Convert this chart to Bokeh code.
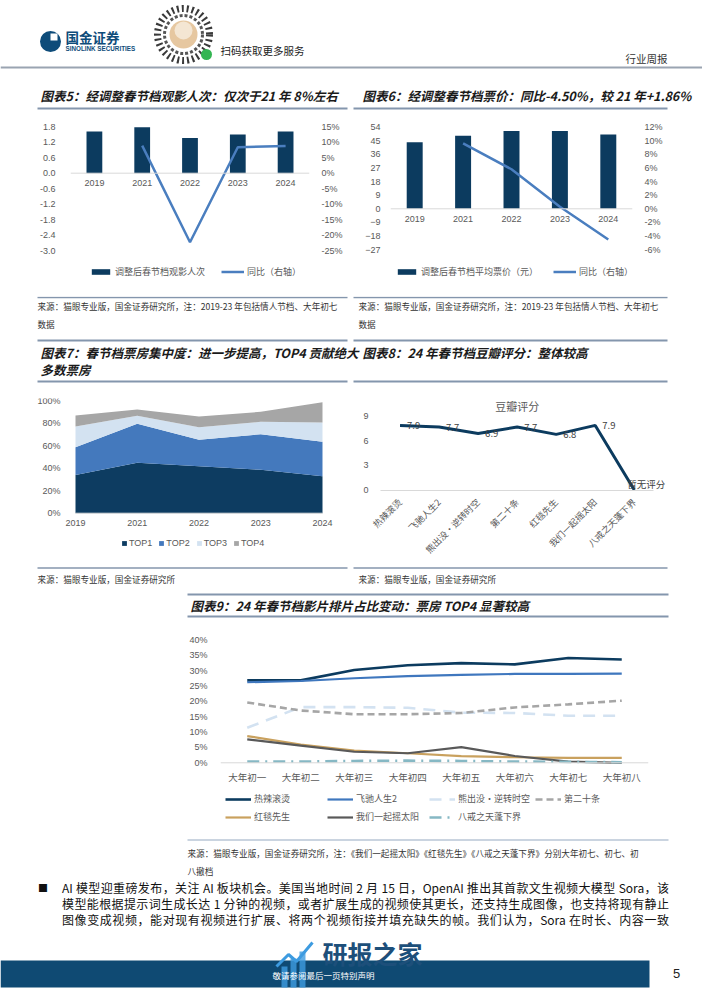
import math
import numpy as np
from bokeh.plotting import figure
from bokeh.models import (Range1d, FactorRange, LinearAxis, FixedTicker, PrintfTickFormatter,
                          NumeralTickFormatter, Legend, LegendItem, Span, ColumnDataSource,
                          LabelSet, Div)
from bokeh.layouts import column, row
from bokeh.embed import file_html
from bokeh.resources import INLINE
from bokeh.core.properties import value

# ---------------- data ----------------
years_56 = ["2019", "2021", "2022", "2023", "2024"]
audience_100m = [1.62, 1.78, 1.37, 1.50, 1.62]
audience_yoy = [np.nan, 8.9, -22.3, 8.4, 8.8]
avg_price = [44.0, 48.2, 51.4, 51.4, 49.1]
price_yoy = [np.nan, 9.6, 5.8, 0.3, -4.5]
ticks_aud = [-3.0, -2.4, -1.8, -1.2, -0.6, 0.0, 0.6, 1.2, 1.8]
ticks_aud_yoy = [-25, -20, -15, -10, -5, 0, 5, 10, 15]
ticks_price = [-27, -18, -9, 0, 9, 18, 27, 36, 45, 54]
ticks_price_yoy = [-6, -4, -2, 0, 2, 4, 6, 8, 10, 12]

years_7 = ["2019", "2021", "2022", "2023", "2024"]
top1 = [34.0, 44.7, 41.7, 38.5, 32.8]
top2 = [24.6, 34.6, 23.4, 31.6, 30.6]
top3 = [18.3, 7.1, 11.2, 11.0, 17.1]
top4 = [9.8, 5.6, 9.5, 8.9, 18.0]
ticks_share = [0, 20, 40, 60, 80, 100]

films = ["热辣滚烫", "飞驰人生2", "熊出没·逆转时空", "第二十条", "红毯先生", "我们一起摇太阳", "八戒之天蓬下界"]
scores = [7.9, 7.7, 6.9, 7.7, 6.8, 7.9, 0.0]
score_labels = ["7.9", "7.7", "6.9", "7.7", "6.8", "7.9", "暂无评分"]
ticks_score = [0, 3, 6, 9]

days = ["大年初一", "大年初二", "大年初三", "大年初四", "大年初五", "大年初六", "大年初七", "大年初八"]
s_rlgt = [26.8, 26.8, 30.2, 31.7, 32.4, 32.0, 34.1, 33.6]
s_fcrs = [26.2, 26.6, 27.5, 28.2, 28.6, 28.9, 28.9, 29.0]
s_xcm = [11.4, 18.1, 18.1, 17.9, 16.3, 16.2, 15.3, 15.3]
s_dest = [19.6, 17.0, 15.8, 15.8, 16.2, 18.0, 19.0, 20.2]
s_htxs = [8.7, 5.9, 4.0, 3.1, 2.2, 1.8, 1.6, 1.6]
s_wmyq = [7.6, 5.6, 3.6, 3.1, 5.1, 2.2, 0.4, 0.0]
s_bj = [0.4, 0.4, 0.6, 0.7, 0.6, 0.4, 0.3, 0.2]
ticks_sched = [0, 5, 10, 15, 20, 25, 30, 35, 40]

# ---------------- styles ----------------
NAVY = "#0c3b5f"
BLUE = "#4a7ebf"
GRAY_TXT = "#595959"
BASE = "#d9d9d9"
RULE = "#8496ad"
LAT = "Liberation Sans"
CJK = "Noto Sans CJK SC"
W = 702


def chart_fig(width, height, x_range, y_range, left, right, top, bottom):
    p = figure(width=width, height=height, x_range=x_range, y_range=y_range,
               output_backend="svg", toolbar_location=None,
               min_border_left=left, min_border_right=right,
               min_border_top=top, min_border_bottom=bottom)
    p.outline_line_color = None
    p.xgrid.visible = False
    p.ygrid.visible = False
    return p


def style_axis(ax, standoff, size="9px", font=LAT, color=GRAY_TXT):
    ax.axis_line_color = None
    ax.major_tick_line_color = None
    ax.minor_tick_line_color = None
    ax.major_label_text_font = font
    ax.major_label_text_font_size = size
    ax.major_label_text_color = color
    ax.major_label_standoff = standoff


def make_legend(items, loc, gw, gh, spacing, standoff=3, font=CJK, ncols=None, lh=11, lw=10):
    leg = Legend(items=[LegendItem(label=l, renderers=r) for l, r in items],
                 location=loc, orientation="horizontal",
                 glyph_width=gw, glyph_height=gh, spacing=spacing, label_standoff=standoff,
                 label_height=lh, label_width=lw,
                 padding=0, margin=0, border_line_color=None, background_fill_alpha=0,
                 label_text_font=font, label_text_font_size="9px",
                 label_text_color=GRAY_TXT, label_text_baseline="middle")
    if ncols:
        leg.ncols = ncols
    return leg


def deco_fig(y0, y1):
    p = figure(width=W, height=y1 - y0, x_range=Range1d(0, W), y_range=Range1d(y1, y0),
               output_backend="svg", toolbar_location=None, min_border=0,
               x_axis_location=None, y_axis_location=None)
    p.outline_line_color = None
    p.xgrid.visible = False
    p.ygrid.visible = False
    return p


def txt(p, xs, ys, texts, size, color="#1a1a1a", style="normal", align="left", font=CJK):
    p.text(x=xs, y=ys, text=texts, text_font=value(font), text_font_size=size,
           text_color=color, text_font_style=style, text_align=align, text_baseline="middle")


def rules(p, x0, x1, y, color=RULE, width=1.6):
    p.segment(x0=x0, y0=y, x1=x1, y1=y, line_color=color, line_width=width)


# ---------------- header + titles 5/6 (Y 0-112) ----------------
hd = deco_fig(0, 112)
hd.circle(x=[50], y=[41], radius=10.5, fill_color="#0e4c7a", line_color=None)
hd.quad(left=[50], right=[57], top=[33], bottom=[40], fill_color="white", line_color=None)
txt(hd, [65], [36], ["国金证券"], "13.5px", color="#0e4c7a", style="bold")
txt(hd, [65], [48], ["SINOLINK SECURITIES"], "6.3px", color="#0e4c7a", style="bold", font=LAT)
hd.circle(x=[183], y=[34], radius=26, fill_color=None, line_color="#3a3a3a", line_width=7, line_dash="2 3")
hd.circle(x=[183], y=[34], radius=19, fill_color=None, line_color="#555555", line_width=3, line_dash="3 2")
hd.circle(x=[183], y=[34], radius=14, fill_color="#e6c7a0", line_color=None)
hd.circle(x=[183], y=[30], radius=9, fill_color="#f4e6d3", line_color=None)
hd.circle(x=[206], y=[54], radius=5.5, fill_color="#33b552", line_color=None)
txt(hd, [220], [50], ["扫码获取更多服务"], "10.5px", color="#222222")
txt(hd, [667], [58], ["行业周报"], "10.5px", color="#333333", align="right")
rules(hd, [0], [W], [67], color="#9aa4b1", width=2)
txt(hd, [40, 362], [95, 95],
    ["图表5：经调整春节档观影人次：仅次于21 年 8%左右", "图表6：经调整春节档票价：同比-4.50%，较 21 年+1.86%"],
    "12.5px", style="bold italic")
rules(hd, [37, 353], [347, 667], [108, 108], width=2)

# ---------------- chart 5 ----------------
p5 = chart_fig(350, 184, FactorRange(factors=years_56), Range1d(-4.2004, 2.1215), 70, 41, 6, 15)
p5.extra_y_ranges = {"yoy": Range1d(-35.0, 17.68)}
src5 = ColumnDataSource(dict(year=years_56, v=audience_100m, yoy=np.array(audience_yoy, dtype=float)))
b5 = p5.vbar(x="year", top="v", width=0.33, source=src5, fill_color=NAVY, line_color=None)
l5 = p5.line(x="year", y="yoy", source=src5, y_range_name="yoy", line_color=BLUE, line_width=2.5)
p5.add_layout(Span(location=0, dimension="width", line_color=BASE, line_width=1))
ya = p5.yaxis[0]
ya.ticker = FixedTicker(ticks=ticks_aud)
ya.formatter = NumeralTickFormatter(format="0.0")
style_axis(ya, 9)
ra = LinearAxis(y_range_name="yoy", ticker=FixedTicker(ticks=ticks_aud_yoy),
                formatter=PrintfTickFormatter(format="%d%%"))
style_axis(ra, 6)
p5.add_layout(ra, "right")
xa = p5.xaxis[0]
xa.fixed_location = -0.035
style_axis(xa, 0)
p5.add_layout(make_legend([("调整后春节档观影人次", [b5]), ("同比（右轴）", [l5])], (19, 3), 23, 7, 16))

# ---------------- chart 6 ----------------
p6 = chart_fig(352, 184, FactorRange(factors=years_56), Range1d(-48.0, 59.63), 40, 70, 6, 15)
p6.extra_y_ranges = {"yoy": Range1d(-10.67, 13.25)}
src6 = ColumnDataSource(dict(year=years_56, v=avg_price, yoy=np.array(price_yoy, dtype=float)))
b6 = p6.vbar(x="year", top="v", width=0.33, source=src6, fill_color=NAVY, line_color=None)
l6 = p6.line(x="year", y="yoy", source=src6, y_range_name="yoy", line_color=BLUE, line_width=2.5)
p6.add_layout(Span(location=0, dimension="width", line_color=BASE, line_width=1))
ya = p6.yaxis[0]
ya.ticker = FixedTicker(ticks=ticks_price)
style_axis(ya, 4)
ra = LinearAxis(y_range_name="yoy", ticker=FixedTicker(ticks=ticks_price_yoy),
                formatter=PrintfTickFormatter(format="%d%%"))
style_axis(ra, 6)
p6.add_layout(ra, "right")
xa = p6.xaxis[0]
xa.fixed_location = -0.5
style_axis(xa, 0)
p6.add_layout(make_legend([("调整后春节档平均票价（元）", [b6]), ("同比（右轴）", [l6])], (5, 3), 23, 7, 15))

# ---------------- deco row (Y 296-388) ----------------
d3 = deco_fig(296, 388)
rules(d3, [37, 353], [347, 667], [297, 297], width=1.5)
src_note = "来源：猫眼专业版，国金证券研究所，注：2019-23 年包括情人节档、大年初七"
txt(d3, [37, 358, 37, 358], [305, 305, 323, 323], [src_note, src_note, "数据", "数据"], "8.6px", color="#333333")
rules(d3, [37, 353], [347, 667], [340, 340], width=2)
txt(d3, [40, 40, 362], [352, 369, 352],
    ["图表7：春节档票房集中度：进一步提高，TOP4 贡献绝大", "多数票房", "图表8：24 年春节档豆瓣评分：整体较高"],
    "12.5px", style="bold italic")
rules(d3, [37, 353], [347, 667], [381, 381], width=2)

# ---------------- chart 7 ----------------
x7 = list(range(len(years_7)))
p7 = chart_fig(350, 178, Range1d(-0.7287, 4.2915), Range1d(-34.0, 101.8), 30, 10, 10, 15)
src7 = ColumnDataSource(dict(x=x7, TOP1=top1, TOP2=top2, TOP3=top3, TOP4=top4))
areas = p7.varea_stack(stackers=["TOP1", "TOP2", "TOP3", "TOP4"], x="x", source=src7,
                       color=["#0d3c61", "#4479bd", "#d3e2f1", "#a6a6a6"])
p7.segment(x0=[x7[0]], y0=[0], x1=[x7[-1]], y1=[0], line_color=BASE, line_width=1)
ya = p7.yaxis[0]
ya.ticker = FixedTicker(ticks=ticks_share)
ya.formatter = PrintfTickFormatter(format="%d%%")
ya.fixed_location = x7[0]
style_axis(ya, 9)
xa = p7.xaxis[0]
xa.ticker = FixedTicker(ticks=x7)
xa.major_label_overrides = {i: y for i, y in enumerate(years_7)}
xa.fixed_location = -1.15
style_axis(xa, 0)
p7.add_layout(make_legend([(n, [r]) for n, r in zip(["TOP1", "TOP2", "TOP3", "TOP4"], areas)],
                          (91, 3), 6, 6, 6, standoff=2, font=LAT))

# ---------------- chart 8 ----------------
x8 = list(range(len(films)))
p8 = chart_fig(352, 178, Range1d(-0.5, len(films) - 0.15), Range1d(-0.06, 11.19), 30, 35, 10, 76)
src8 = ColumnDataSource(dict(x=x8, score=scores, label=score_labels,
                             dx=[7 if s > 0 else -7 for s in scores],
                             dy=[0 if s > 0 else 6 for s in scores]))
p8.line(x="x", y="score", source=src8, line_color=NAVY, line_width=3)
p8.add_layout(LabelSet(x="x", y="score", text="label", x_offset="dx", y_offset="dy", source=src8,
                       text_font=value(CJK), text_font_size="9.5px", text_color="#404040",
                       text_baseline="middle", text_align="left"))
p8.text(x=[x8[3]], y=[10.22], text=["豆瓣评分"], text_font=value(CJK), text_font_size="11px",
        text_color=GRAY_TXT, text_align="center", text_baseline="middle")
ya = p8.yaxis[0]
ya.ticker = FixedTicker(ticks=ticks_score)
style_axis(ya, 6)
xa = p8.xaxis[0]
xa.ticker = FixedTicker(ticks=x8)
xa.major_label_overrides = {i: f for i, f in enumerate(films)}
style_axis(xa, 4, font=CJK)
xa.axis_line_color = BASE
xa.bounds = (-0.5, len(films) - 0.5)
xa.major_label_orientation = math.pi / 4

# ---------------- deco row (Y 566-622) ----------------
d5 = deco_fig(566, 622)
rules(d5, [37, 353], [347, 667], [567.5, 567.5], width=1.5)
txt(d5, [37, 358], [578, 578], ["来源：猫眼专业版，国金证券研究所", "来源：猫眼专业版，国金证券研究所"], "8.6px", color="#333333")
rules(d5, [187], [668], [594], width=2)
txt(d5, [190], [605], ["图表9：24 年春节档影片排片占比变动：票房 TOP4 显著较高"], "12.5px", style="bold italic")
rules(d5, [187], [668], [616], width=2)

# ---------------- chart 9 ----------------
p9 = chart_fig(W, 216, FactorRange(factors=days), Range1d(-19.74, 42.37), 220, 54, 10, 15)
src9 = ColumnDataSource(dict(day=days, a=s_rlgt, b=s_fcrs, c=s_xcm, d=s_dest, e=s_htxs, f=s_wmyq, g=s_bj))
series9 = [("热辣滚烫", "a"), ("飞驰人生2", "b"), ("熊出没·逆转时空", "c"), ("第二十条", "d"),
           ("红毯先生", "e"), ("我们一起摇太阳", "f"), ("八戒之天蓬下界", "g")]
style9 = {"a": ("#0c3b5f", 2.6, "solid"), "b": ("#3f77be", 2.2, "solid"),
          "c": ("#d3e2f1", 2.6, "12 8"), "d": ("#a6a6a6", 2.6, "7 4"),
          "e": ("#c9a15e", 2.2, "solid"), "f": ("#595959", 2.2, "solid"),
          "g": ("#86b8c4", 2.6, "12 6 2 6")}
p9.add_layout(Span(location=0, dimension="width", line_color=BASE, line_width=1))
rend9 = []
for name, col in series9:
    c, w, dash = style9[col]
    rend9.append((name, [p9.line(x="day", y=col, source=src9, line_color=c, line_width=w, line_dash=dash)]))
ya = p9.yaxis[0]
ya.ticker = FixedTicker(ticks=ticks_sched)
ya.formatter = PrintfTickFormatter(format="%d%%")
style_axis(ya, 7)
xa = p9.xaxis[0]
xa.fixed_location = -0.4
style_axis(xa, 0, size="9.5px", font=CJK)
p9.add_layout(make_legend(rend9, (5, 0), 26, 12, 5, standoff=3, ncols=4, lh=12, lw=68))

# ---------------- deco row (Y 838-880) ----------------
d7 = deco_fig(838, 880)
rules(d7, [187], [668], [839.5], color="#b8c6d6", width=1.5)
txt(d7, [187, 187], [852, 870],
    ["来源：猫眼专业版，国金证券研究所，注：《我们一起摇太阳》《红毯先生》《八戒之天蓬下界》分别大年初七、初七、初",
     "八撤档"], "8.6px", color="#333333")

# ---------------- paragraph ----------------
lines = [
    "AI 模型迎重磅发布，关注 AI 板块机会。美国当地时间 2 月 15 日，OpenAI 推出其首款文生视频大模型 Sora，该",
    "模型能根据提示词生成长达 1 分钟的视频，或者扩展生成的视频使其更长，还支持生成图像，也支持将现有静止",
    "图像变成视频，能对现有视频进行扩展、将两个视频衔接并填充缺失的帧。我们认为，Sora 在时长、内容一致",
]
line_html = "".join(
    '<div style="text-align:justify;text-align-last:justify;white-space:nowrap;height:16px;line-height:16px;">%s</div>' % t
    for t in lines)
para = Div(text=(
    '<div style="position:relative;width:702px;height:48px;font-family:\'Noto Sans CJK SC\';'
    'font-size:12px;line-height:16px;color:#111;">'
    '<div style="position:absolute;left:38px;top:0px;font-size:10px;">■</div>'
    '<div style="position:absolute;left:62px;top:0px;width:607px;">' + line_html + '</div></div>'),
    width=W, height=48, margin=(0, 0, 0, 0))

# ---------------- footer ----------------
ft = deco_fig(928, 990)
ft.quad(left=[0], right=[649], top=[960], bottom=[987], fill_color="#0f4a73", line_color=None)
ft.quad(left=[281, 290, 299], right=[287, 296, 305], top=[966, 958, 951], bottom=[987, 987, 987],
        fill_color="#3d9be0", line_color=None, fill_alpha=0.8)
ft.line(x=[276, 288, 296, 312], y=[966, 954, 961, 942], line_color="#3d9be0", line_width=3)
txt(ft, [322], [952], ["研报之家"], "25px", color="#1d4f7a", style="bold")
txt(ft, [272], [974], ["敬请参阅最后一页特别声明"], "8.5px", color="#ffffff")
txt(ft, [676], [973], ["5"], "13px", color="#222222", align="center", font=LAT)

layout = column(
    column(hd),
    row(column(p5), column(p6)),
    column(d3),
    row(column(p7), column(p8)),
    column(d5),
    column(p9),
    column(d7),
    para,
    column(ft),
)

open("out.html", "w").write(file_html(layout, INLINE))
